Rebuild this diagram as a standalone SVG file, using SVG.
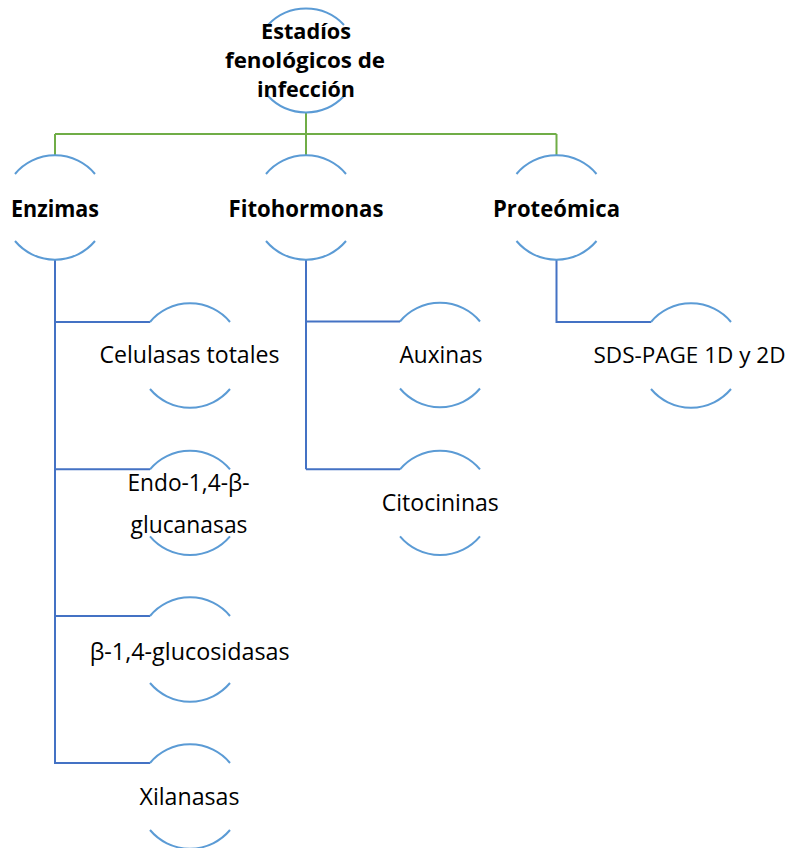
<svg xmlns="http://www.w3.org/2000/svg" width="791" height="848" viewBox="0 0 791 848">
<style>
.arc{fill:none;stroke:#5B9BD5;stroke-width:2}
.cb{fill:none;stroke:#4472C4;stroke-width:2}
.cg{fill:none;stroke:#70AD47;stroke-width:2}
text{font-family:"Open Sans","Liberation Sans",sans-serif;font-size:23.5px;fill:#000;text-anchor:middle}
.b{font-weight:700}
.r{font-size:22px}
</style>
<rect width="791" height="848" fill="#fff"/>
<g id="connectors">
<path class="cg" d="M306,112.7V134M55,134H556.5M55,134V155.5M306,134V155.5M556.5,134V155.5"/>
<path class="cb" d="M55,259.5V764M55,322H150M55,469.3H150M55,616H150M55,763H150"/>
<path class="cb" d="M306,259.5V469.3M306,321.5H400M306,469.3H400"/>
<path class="cb" d="M556.5,259.5V322H651"/>
</g>
<g id="root">
<path class="arc" d="M268,25A52.2,52.2 0 0 1 344,25M268,96A52.2,52.2 0 0 0 344,96"/>
<text class="b r" x="306" y="39" textLength="90" lengthAdjust="spacingAndGlyphs">Estadíos</text>
<text class="b r" x="305" y="68" textLength="160" lengthAdjust="spacingAndGlyphs">fenológicos de</text>
<text class="b r" x="306" y="96.5" textLength="98" lengthAdjust="spacingAndGlyphs">infección</text>
</g>
<g id="enzimas">
<path class="arc" d="M15,174A52.2,52.2 0 0 1 95,174M15,241A52.2,52.2 0 0 0 95,241"/>
<text class="b" x="55" y="217" textLength="88" lengthAdjust="spacingAndGlyphs">Enzimas</text>
</g>
<g id="fitohormonas">
<path class="arc" d="M266,174A52.2,52.2 0 0 1 346,174M266,241A52.2,52.2 0 0 0 346,241"/>
<text class="b" x="306" y="217" textLength="155" lengthAdjust="spacingAndGlyphs">Fitohormonas</text>
</g>
<g id="proteomica">
<path class="arc" d="M516.5,174A52.2,52.2 0 0 1 596.5,174M516.5,241A52.2,52.2 0 0 0 596.5,241"/>
<text class="b" x="556.5" y="216.5" textLength="127" lengthAdjust="spacingAndGlyphs">Proteómica</text>
</g>
<g id="celulasas">
<path class="arc" d="M150,322A52.2,52.2 0 0 1 230,322M150,389A52.2,52.2 0 0 0 230,389"/>
<text x="189.5" y="362.7" textLength="180" lengthAdjust="spacingAndGlyphs">Celulasas totales</text>
</g>
<g id="endo">
<path class="arc" d="M150,469.3A52.2,52.2 0 0 1 230,469.3M150,536.3A52.2,52.2 0 0 0 230,536.3"/>
<text x="188.5" y="490.7" textLength="122" lengthAdjust="spacingAndGlyphs">Endo-1,4-β-</text>
<text x="189" y="532.7" textLength="117" lengthAdjust="spacingAndGlyphs">glucanasas</text>
</g>
<g id="glucosidasas">
<path class="arc" d="M150,616A52.2,52.2 0 0 1 230,616M150,683A52.2,52.2 0 0 0 230,683"/>
<text x="189.7" y="659.5" textLength="200" lengthAdjust="spacingAndGlyphs">β-1,4-glucosidasas</text>
</g>
<g id="xilanasas">
<path class="arc" d="M150,763A52.2,52.2 0 0 1 230,763M150,830A52.2,52.2 0 0 0 230,830"/>
<text x="189.5" y="805" textLength="100" lengthAdjust="spacingAndGlyphs">Xilanasas</text>
</g>
<g id="auxinas">
<path class="arc" d="M400,321.5A52.2,52.2 0 0 1 480,321.5M400,388.5A52.2,52.2 0 0 0 480,388.5"/>
<text x="441" y="363.3" textLength="83" lengthAdjust="spacingAndGlyphs">Auxinas</text>
</g>
<g id="citocininas">
<path class="arc" d="M400,469.3A52.2,52.2 0 0 1 480,469.3M400,536.3A52.2,52.2 0 0 0 480,536.3"/>
<text x="440.3" y="510.7" textLength="117" lengthAdjust="spacingAndGlyphs">Citocininas</text>
</g>
<g id="sdspage">
<path class="arc" d="M651,322A52.2,52.2 0 0 1 731,322M651,389A52.2,52.2 0 0 0 731,389"/>
<text class="r" x="689.5" y="362.7" textLength="192" lengthAdjust="spacingAndGlyphs">SDS-PAGE 1D y 2D</text>
</g>
</svg>
